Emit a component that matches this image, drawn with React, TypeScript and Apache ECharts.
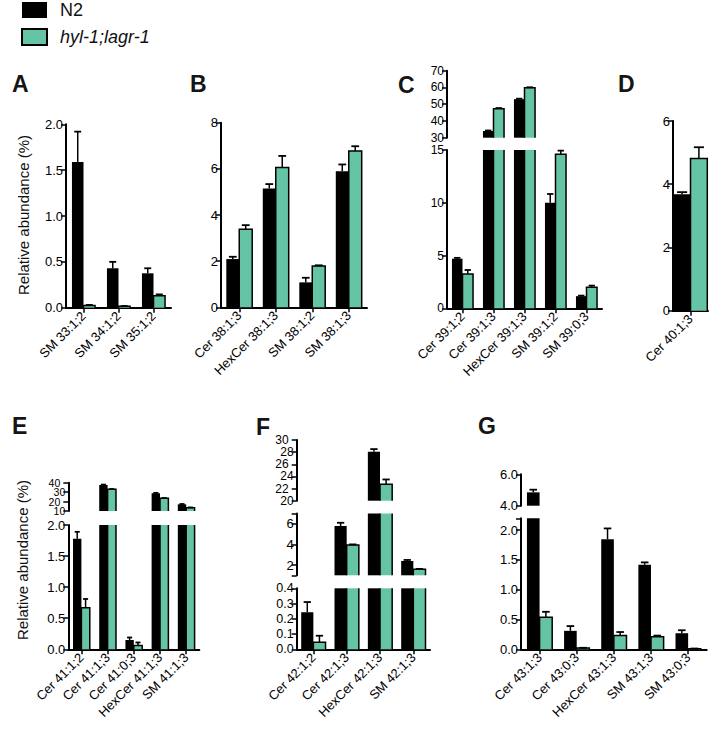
import React, { useEffect, useRef } from 'react';
import * as echarts from 'echarts';

const TEAL = '#66c4a6';
const FONT = '"Liberation Sans", Arial, Helvetica, sans-serif';
const N2_NAME = 'N2';
const MUT_NAME = 'hyl-1;lagr-1';

// ---- Panel A ----
const catA = ['SM 33:1;2', 'SM 34:1;2', 'SM 35:1;2'];
const n2A = [1.59, 0.43, 0.375];
const n2ErrA = [0.33, 0.07, 0.055];
const mutA = [0.025, 0.015, 0.13];
const mutErrA = [0.005, 0.003, 0.015];

// ---- Panel B ----
const catB = ['Cer 38:1;3', 'HexCer 38:1;3', 'SM 38:1;2', 'SM 38:1;3'];
const n2B = [2.09, 5.15, 1.08, 5.9];
const n2ErrB = [0.1, 0.19, 0.2, 0.29];
const mutB = [3.38, 6.06, 1.79, 6.77];
const mutErrB = [0.18, 0.5, 0.03, 0.21];

// ---- Panel C ----
const catC = ['Cer 39:1;2', 'Cer 39:1;3', 'HexCer 39:1;3', 'SM 39:1;2', 'SM 39:0;3'];
const n2C = [4.7, 34, 53, 10, 1.15];
const n2ErrC = [0.08, 0.3, 0.3, 0.83, 0.05];
const mutC = [3.25, 47.3, 59.8, 14.6, 2.0];
const mutErrC = [0.38, 0.4, 0.3, 0.34, 0.15];

// ---- Panel D ----
const catD = ['Cer 40:1;3'];
const n2D = [3.68];
const n2ErrD = [0.07];
const mutD = [4.81];
const mutErrD = [0.36];

// ---- Panel E ----
const catE = ['Cer 41:1;2', 'Cer 41:1;3', 'Cer 41:0;3', 'HexCer 41:1;3', 'SM 41:1;3'];
const n2E = [1.78, 37.6, 0.15, 28.8, 17.1];
const n2ErrE = [0.11, 0.4, 0.04, 0.4, 0.3];
const mutE = [0.67, 33, 0.06, 23.5, 13.5];
const mutErrE = [0.14, 0.3, 0.05, 0.3, 0.3];

// ---- Panel F ----
const catF = ['Cer 42:1;2', 'Cer 42:1;3', 'HexCer 42:1;3', 'SM 42:1;3'];
const n2F = [0.243, 5.79, 28.07, 2.39];
const n2ErrF = [0.067, 0.31, 0.43, 0.1];
const mutF = [0.046, 3.94, 22.7, 1.58];
const mutErrF = [0.043, 0.06, 0.8, 0.04];

// ---- Panel G ----
const catG = ['Cer 43:1;3', 'Cer 43:0;3', 'HexCer 43:1;3', 'SM 43:1;3', 'SM 43:0;3'];
const n2G = [4.85, 0.31, 1.85, 1.42, 0.27];
const n2ErrG = [0.17, 0.08, 0.18, 0.04, 0.05];
const mutG = [0.54, 0.02, 0.23, 0.21, 0.01];
const mutErrG = [0.09, 0.005, 0.06, 0.02, 0.003];

// ---- Axis segments (broken axes): tick values and tick labels ----
const ticksA = [0, 0.5, 1, 1.5, 2];
const ticksB = [0, 2, 4, 6, 8];
const ticksCUp = [30, 40, 50, 60, 70];
const ticksCLow = [0, 5, 10, 15];
const ticksD = [0, 2, 4, 6];
const ticksEUp = [10, 20, 30, 40];
const labelsEUp = [10, 30];
const labelsEUpAlt = [20, 40];
const ticksELow = [0, 0.5, 1, 1.5, 2];
const ticksFUp = [20, 22, 24, 26, 28, 30];
const labelsFUp = [20, 24, 28];
const labelsFUpAlt = [22, 26, 30];
const ticksFMid = [1, 2, 4, 6, 7];
const labelsFMid = [2, 4, 6];
const ticksFLow = [0, 0.1, 0.2, 0.3, 0.4];
const ticksGUp = [4, 6];
const ticksGLow = [0, 0.5, 1, 1.5, 2, 2.2];
const labelsGLow = [0, 0.5, 1, 1.5, 2];

type Seg = {
  top: number; height: number; min: number; max: number; ticks: number[];
  labels?: number[]; alt?: number[]; dec: number; fs?: number; lh?: number;
};
type Panel = {
  cats: string[]; n2: number[]; n2Err: number[]; mut: number[]; mutErr: number[];
  left: number; width: number; gap: number; segs: Seg[];
};

const panels: Panel[] = [
  { cats: catA, n2: n2A, n2Err: n2ErrA, mut: mutA, mutErr: mutErrA, left: 66, width: 105, gap: 34,
    segs: [{ top: 124.3, height: 183.4, min: 0, max: 2, ticks: ticksA, dec: 1 }] },
  { cats: catB, n2: n2B, n2Err: n2ErrB, mut: mutB, mutErr: mutErrB, left: 221, width: 146, gap: 29,
    segs: [{ top: 122.7, height: 184.6, min: 0, max: 8, ticks: ticksB, dec: 0 }] },
  { cats: catC, n2: n2C, n2Err: n2ErrC, mut: mutC, mutErr: mutErrC, left: 447, width: 155, gap: 32,
    segs: [
      { top: 70.7, height: 67, min: 30, max: 70, ticks: ticksCUp, dec: 0, fs: 12 },
      { top: 150, height: 158.3, min: 0, max: 15, ticks: ticksCLow, dec: 0, fs: 12 },
    ] },
  { cats: catD, n2: n2D, n2Err: n2ErrD, mut: mutD, mutErr: mutErrD, left: 673, width: 35, gap: 4,
    segs: [{ top: 121, height: 189.7, min: 0, max: 6, ticks: ticksD, dec: 0 }] },
  { cats: catE, n2: n2E, n2Err: n2ErrE, mut: mutE, mutErr: mutErrE, left: 68.3, width: 131, gap: 36,
    segs: [
      { top: 482.7, height: 28.3, min: 10, max: 40, ticks: ticksEUp, labels: labelsEUp, alt: labelsEUpAlt, dec: 0, fs: 10.5, lh: 9 },
      { top: 525, height: 124.3, min: 0, max: 2, ticks: ticksELow, dec: 1 },
    ] },
  { cats: catF, n2: n2F, n2Err: n2ErrF, mut: mutF, mutErr: mutErrF, left: 296.7, width: 133.3, gap: 27,
    segs: [
      { top: 440, height: 60.7, min: 20, max: 30, ticks: ticksFUp, labels: labelsFUp, alt: labelsFUpAlt, dec: 0, fs: 12 },
      { top: 513.5, height: 61.8, min: 1, max: 7, ticks: ticksFMid, labels: labelsFMid, dec: 0 },
      { top: 588.3, height: 61, min: 0, max: 0.4, ticks: ticksFLow, dec: 1, fs: 12.5 },
    ] },
  { cats: catG, n2: n2G, n2Err: n2ErrG, mut: mutG, mutErr: mutErrG, left: 521, width: 185.7, gap: 32,
    segs: [
      { top: 474.3, height: 31.4, min: 4, max: 6, ticks: ticksGUp, dec: 1 },
      { top: 518.3, height: 131, min: 0, max: 2.2, ticks: ticksGLow, labels: labelsGLow, dec: 1 },
    ] },
];

const letters = [
  { t: 'A', x: 12, y: 84 }, { t: 'B', x: 190, y: 84 }, { t: 'C', x: 398, y: 85 }, { t: 'D', x: 618, y: 84 },
  { t: 'E', x: 12, y: 426 }, { t: 'F', x: 256, y: 427 }, { t: 'G', x: 478, y: 426 },
];

const Y_NAME = 'Relative abundance (%)';

function buildOption() {
  const grids: any[] = [];
  const xAxes: any[] = [];
  const yAxes: any[] = [];
  const series: any[] = [];

  panels.forEach((p) => {
    p.segs.forEach((s, si) => {
      const gi = grids.length;
      const isBottom = si === p.segs.length - 1;
      const gap = p.gap;
      const fmt = (v: any) => Number(v).toFixed(s.dec);
      grids.push({ left: p.left, top: s.top, width: p.width, height: s.height, containLabel: false });
      xAxes.push({
        type: 'category', gridIndex: gi, data: p.cats, show: isBottom,
        axisLine: { show: true, lineStyle: { color: '#000', width: 2 } },
        axisTick: { show: true, alignWithLabel: true, length: 5, lineStyle: { color: '#000', width: 1.5 } },
        axisLabel: { rotate: 45, fontSize: 13, color: '#000', margin: 6, interval: 0, fontFamily: FONT },
      });
      const yi = yAxes.length;
      const labelBase: any = {
        fontSize: s.fs || 13, color: '#000', fontFamily: FONT,
        showMinLabel: true, showMaxLabel: true, formatter: fmt,
      };
      if (s.lh) labelBase.lineHeight = s.lh;
      yAxes.push({
        type: 'value', gridIndex: gi, min: s.min, max: s.max, position: 'left',
        splitLine: { show: false },
        axisLine: { show: true, lineStyle: { color: '#000', width: 2 } },
        axisTick: { show: true, length: 5, lineStyle: { color: '#000', width: 1.5 }, customValues: s.ticks },
        axisLabel: { ...labelBase, customValues: s.labels || s.ticks, margin: 3 },
      });
      if (s.alt) {
        // second label row for crowded broken-axis segments (same scale, labels only)
        yAxes.push({
          type: 'value', gridIndex: gi, min: s.min, max: s.max, position: 'left', offset: 0,
          splitLine: { show: false }, axisLine: { show: false }, axisTick: { show: false },
          axisLabel: { ...labelBase, customValues: s.alt, margin: 8 },
        });
      }
      series.push({
        type: 'bar', name: N2_NAME, xAxisIndex: gi, yAxisIndex: yi, data: p.n2,
        barGap: '0%', barCategoryGap: gap + '%', clip: true,
        itemStyle: { color: '#000', borderWidth: 0 },
      });
      series.push({
        type: 'bar', name: MUT_NAME, xAxisIndex: gi, yAxisIndex: yi, data: p.mut,
        barGap: '0%', barCategoryGap: gap + '%', clip: true,
        itemStyle: { color: TEAL, borderWidth: 0 },
      });

      // outlines of the teal bars (no border where the axis is broken)
      const ol: number[][] = [];
      p.mut.forEach((v, i) => { if (v > s.min) ol.push([i, v]); });
      series.push({
        type: 'custom', xAxisIndex: gi, yAxisIndex: yi, data: ol, z: 4, silent: true,
        encode: { x: 0, y: 1 },
        renderItem: (params: any, api: any) => {
          const idx = api.value(0);
          const v = api.value(1);
          const band = api.size([1, 0])[0];
          const bw = (band * (1 - gap / 100)) / 2;
          const c = api.coord([idx, s.min]);
          const xl = c[0];
          const xr = c[0] + bw;
          const yb = c[1];
          const yt = api.coord([idx, Math.min(v, s.max)])[1];
          const style = { stroke: '#000', lineWidth: 1.5, fill: null };
          if (v <= s.max) {
            return { type: 'polyline', shape: { points: [[xl, yb], [xl, yt], [xr, yt], [xr, yb]] }, style };
          }
          return {
            type: 'group',
            children: [
              { type: 'line', shape: { x1: xl, y1: yb, x2: xl, y2: yt }, style },
              { type: 'line', shape: { x1: xr, y1: yb, x2: xr, y2: yt }, style },
            ],
          };
        },
      });

      // error bars (upper half only)
      const eb: number[][] = [];
      p.n2.forEach((v, i) => { if (v >= s.min && v <= s.max) eb.push([i, v, p.n2Err[i], -1]); });
      p.mut.forEach((v, i) => { if (v >= s.min && v <= s.max) eb.push([i, v, p.mutErr[i], 1]); });
      series.push({
        type: 'custom', xAxisIndex: gi, yAxisIndex: yi, data: eb, z: 5, silent: true,
        encode: { x: 0, y: 1 },
        renderItem: (params: any, api: any) => {
          const idx = api.value(0);
          const mean = api.value(1);
          const err = api.value(2);
          const side = api.value(3);
          const band = api.size([1, 0])[0];
          const bw = (band * (1 - gap / 100)) / 2;
          const base = api.coord([idx, mean]);
          const top = api.coord([idx, Math.min(mean + err, s.max)]);
          const x = base[0] + (side * bw) / 2;
          const cap = bw * 0.3;
          return {
            type: 'group',
            children: [
              { type: 'line', shape: { x1: x, y1: base[1], x2: x, y2: top[1] }, style: { stroke: '#000', lineWidth: 1.5 } },
              { type: 'line', shape: { x1: x - cap, y1: top[1], x2: x + cap, y2: top[1] }, style: { stroke: '#000', lineWidth: 1.8 } },
            ],
          };
        },
      });
    });
  });

  const graphic: any[] = letters.map((l) => ({
    type: 'text', x: l.x, y: l.y,
    style: { text: l.t, font: `bold 23px ${FONT}`, fill: '#151515', verticalAlign: 'middle', align: 'left' },
  }));
  graphic.push({
    type: 'text', x: 23.5, y: 215, rotation: Math.PI / 2,
    style: { text: Y_NAME, font: `15px ${FONT}`, fill: '#111', align: 'center', verticalAlign: 'middle' },
  });
  graphic.push({
    type: 'text', x: 22, y: 560, rotation: Math.PI / 2,
    style: { text: Y_NAME, font: `15px ${FONT}`, fill: '#111', align: 'center', verticalAlign: 'middle' },
  });

  return {
    animation: false,
    backgroundColor: '#fff',
    textStyle: { fontFamily: FONT },
    legend: {
      data: [
        { name: N2_NAME, itemStyle: { color: '#000', borderWidth: 0 } },
        { name: MUT_NAME, itemStyle: { color: TEAL, borderColor: '#000', borderWidth: 2 } },
      ],
      orient: 'vertical', left: 21, top: 1, padding: 0,
      itemWidth: 25, itemHeight: 16, itemGap: 9, icon: 'rect', selectedMode: false,
      formatter: (n: string) => (n === N2_NAME ? n : `{i|${n}}`),
      textStyle: {
        fontSize: 18, lineHeight: 16, color: '#111', fontFamily: FONT, padding: [0, 0, 0, 8],
        rich: { i: { fontStyle: 'italic', fontSize: 18, lineHeight: 16, color: '#111', fontFamily: FONT } },
      },
    },
    grid: grids,
    xAxis: xAxes,
    yAxis: yAxes,
    series,
    graphic,
  };
}

export default function App() {
  const ref = useRef<HTMLDivElement>(null);
  useEffect(() => {
    if (!ref.current) return;
    const chart = echarts.init(ref.current, null, { renderer: 'svg' });
    chart.setOption(buildOption() as any);
    return () => chart.dispose();
  }, []);
  return <div ref={ref} style={{ position: 'absolute', left: 0, top: 0, width: 716, height: 741 }} />;
}
